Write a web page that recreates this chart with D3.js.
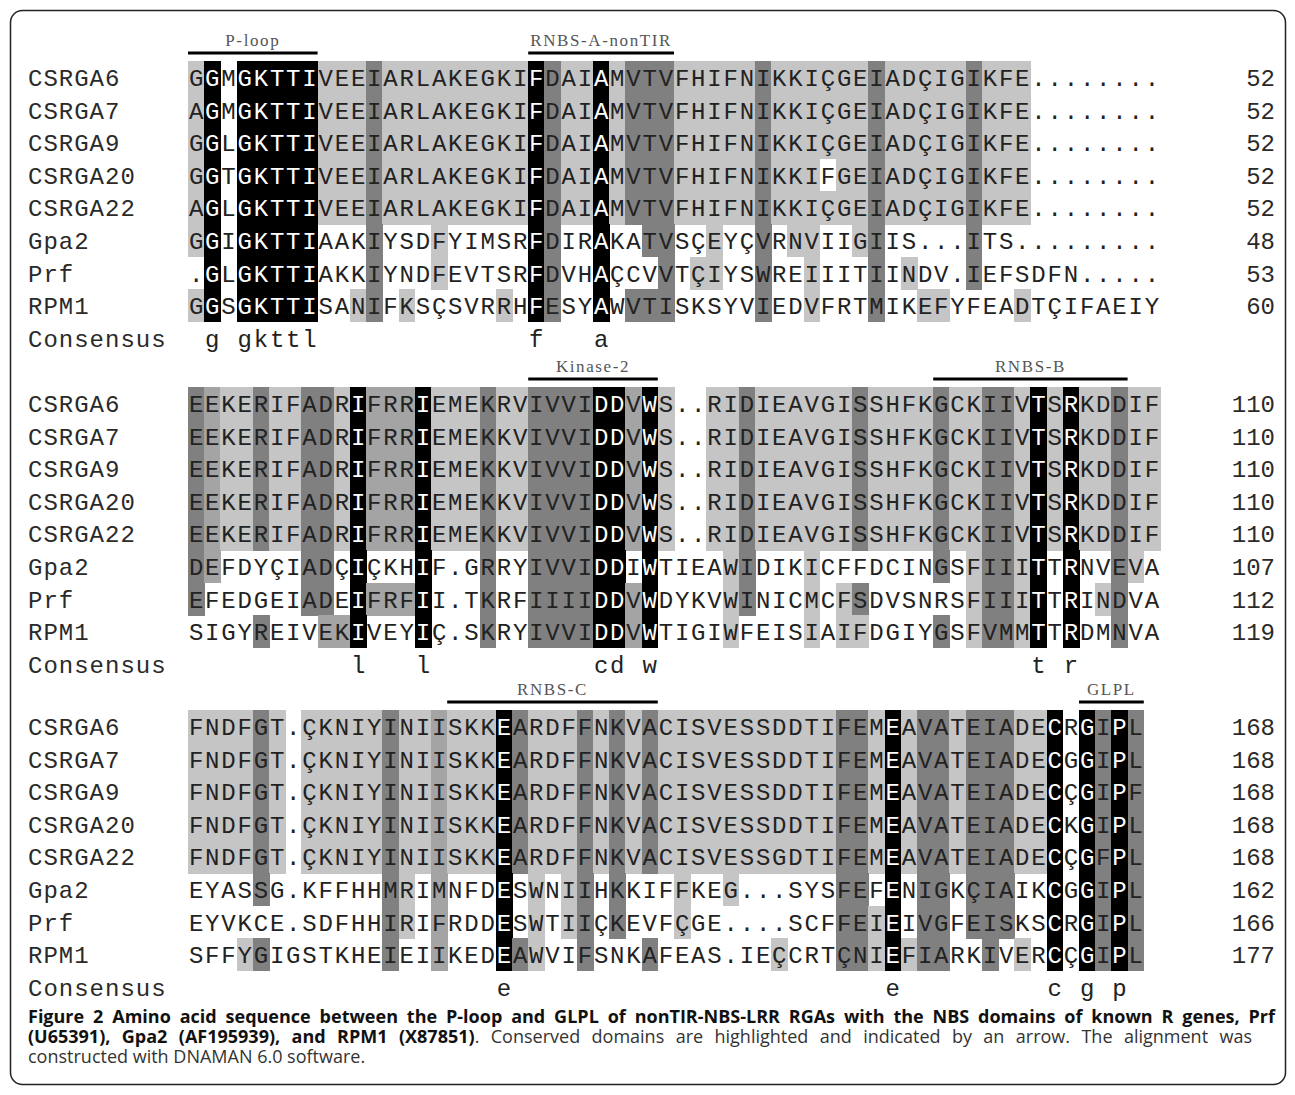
<!DOCTYPE html>
<html>
<head>
<meta charset="utf-8">
<script src="https://cdn.jsdelivr.net/npm/d3@7"></script>
<style>
  body { margin: 0; background: #fff; }
  svg { display: block; }
</style>
</head>
<body>
<div id="chart"></div>
<script>
// sequence names (same in every block)
const names = ['CSRGA6', 'CSRGA7', 'CSRGA9', 'CSRGA20', 'CSRGA22', 'Gpa2', 'Prf', 'RPM1'];

// aligned residues, block by block
const block1Seqs = [
  'GGMGKTTIVEEIARLAKEGKIFDAIAMVTVFHIFNIKKIÇGEIADÇIGIKFE........',
  'AGMGKTTIVEEIARLAKEGKIFDAIAMVTVFHIFNIKKIÇGEIADÇIGIKFE........',
  'GGLGKTTIVEEIARLAKEGKIFDAIAMVTVFHIFNIKKIÇGEIADÇIGIKFE........',
  'GGTGKTTIVEEIARLAKEGKIFDAIAMVTVFHIFNIKKIFGEIADÇIGIKFE........',
  'AGLGKTTIVEEIARLAKEGKIFDAIAMVTVFHIFNIKKIÇGEIADÇIGIKFE........',
  'GGIGKTTIAAKIYSDFYIMSRFDIRAKATVSÇEYÇVRNVIIGIIS...ITS.........',
  '.GLGKTTIAKKIYNDFEVTSRFDVHAÇCVVTÇIYSWREIIITIINDV.IEFSDFN.....',
  'GGSGKTTISANIFKSÇSVRRHFESYAWVTISKSYVIEDVFRTMIKEFYFEADTÇIFAEIY'
];
const block2Seqs = [
  'EEKERIFADRIFRRIEMEKRVIVVIDDVWS..RIDIEAVGISSHFKGCKIIVTSRKDDIF',
  'EEKERIFADRIFRRIEMEKKVIVVIDDVWS..RIDIEAVGISSHFKGCKIIVTSRKDDIF',
  'EEKERIFADRIFRRIEMEKKVIVVIDDVWS..RIDIEAVGISSHFKGCKIIVTSRKDDIF',
  'EEKERIFADRIFRRIEMEKKVIVVIDDVWS..RIDIEAVGISSHFKGCKIIVTSRKDDIF',
  'EEKERIFADRIFRRIEMEKKVIVVIDDVWS..RIDIEAVGISSHFKGCKIIVTSRKDDIF',
  'DEFDYÇIADÇIÇKHIF.GRRYIVVIDDIWTIEAWIDIKICFFDCINGSFIIITTRNVEVA',
  'EFEDGEIADEIFRFII.TKRFIIIIDDVWDYKVWINICMCFSDVSNRSFIIITTRINDVA',
  'SIGYREIVEKIVEYIÇ.SKRYIVVIDDVWTIGIWFEISIAIFDGIYGSFVMMTTRDMNVA'
];
const block3Seqs = [
  'FNDFGT.ÇKNIYINIISKKEARDFFNKVACISVESSDDTIFEMEAVATEIADECRGIPL',
  'FNDFGT.ÇKNIYINIISKKEARDFFNKVACISVESSDDTIFEMEAVATEIADECGGIPL',
  'FNDFGT.ÇKNIYINIISKKEARDFFNKVACISVESSDDTIFEMEAVATEIADECÇGIPF',
  'FNDFGT.ÇKNIYINIISKKEARDFFNKVACISVESSDDTIFEMEAVATEIADECKGIPL',
  'FNDFGT.ÇKNIYINIISKKEARDFFNKVACISVESSGDTIFEMEAVATEIADECÇGFPL',
  'EYASSG.KFFHHMRIMNFDESWNIIHKKIFFKEG...SYSFEFENIGKÇIAIKCGGIPL',
  'EYVKCE.SDFHHIRIFRDDESWTIIÇKEVFÇGE....SCFFEIEIVGFEISKSCRGIPL',
  'SFFYGIGSTKHEIEIIKEDEAWVIFSNKAFEAS.IEÇCRTÇNIEFIARKIVERCÇGIPL'
];

// homology level of each residue: . none, l low, m medium, d high, k identical
const block1Shade = [
  'lk.kkkkk llld lllllllll kdll klddd llllldll lllld llllldlll ........',
  'lk.kkkkk llld lllllllll kdll klddd llllldll lllld llllldlll ........',
  'lk.kkkkk llld lllllllll kdll klddd llllldll lllld llllldlll ........',
  'lk.kkkkk llld lllllllll kdll klddd llllldll l.lld llllldlll ........',
  'lk.kkkkk llld lllllllll kdll klddd llllldll lllld llllldlll ........',
  'lk.kkkkk ...d ...l..... kd.. k..dd ..l..d.l l..ld .....d... ........',
  '.k.kkkkk ...d ...l..... kd.. k...d .ll..d.. l...d .l...d... ........',
  'lk.kkkkk ..ld .l.....l. kd.. k.ddd .....d.. l...d ..ll....l ........'
];
const block2Shade = [
  'dmlldllddl kmmmkllldl lddddkkmkl ..lldlllll ldlllldlld dlklklldll',
  'dmlldllddl kmmmkllldl lddddkkmkl ..lldlllll ldlllldlld dlklklldll',
  'dmlldllddl kmmmkllldl lddddkkmkl ..lldlllll ldlllldlld dlklklldll',
  'dmlldllddl kmmmkllldl lddddkkmkl ..lldlllll ldlllldlld dlklklldll',
  'dmlldllddl kmmmkllldl lddddkkmkl ..lldlllll ldlllldlld dlklklldll',
  'dm.....dd. k...k...d. .ddddkk.k. ...ld...l. ......d.ld dlk.k..dl.',
  'd......dd. kmmmk...d. .ddddkkmk. ...ld...l. ld......ld dlk.k.ld..',
  '....d...mm k...k...d. .ddddkkmk. ...l....l. ll....d.ld dlk.k..d..'
];
const block3Shade = [
  'lllldl.lll lldllmlllk dllldldldl llllllllll ddlklddldd dllk.kdkd',
  'lllldl.lll lldllmlllk dllldldldl llllllllll ddlklddldd dllk.kdkd',
  'lllldl.lll lldllmlllk dllldldldl llllllllll ddlklddldd dllk.kdkd',
  'lllldl.lll lldllmlllk dllldldldl llllllllll ddlklddldd dllk.kdkd',
  'lllldl.lll lldllmlllk dllldldldl llllllllll ddlklddldd dllk.kdkd',
  '....d..... ..dl.m...k .l.ld.d... l..l...... dd.k.dd.dd d..k.kdkd',
  '.......... ..dl.m...k .l.ld.d... l......... ddlk.dd.dd d..k.kdkd',
  '...ld..... ..d..m...k dl..d...d. ......l... ddlkldd..d .l.k.kdkd'
];

// residue count at the end of each line
const block1Ends = [52, 52, 52, 52, 52, 48, 53, 60];
const block2Ends = [110, 110, 110, 110, 110, 107, 112, 119];
const block3Ends = [168, 168, 168, 168, 168, 162, 166, 177];

// consensus letters: [column, letter]
const block1Consensus = [[2, 'g'], [4, 'g'], [5, 'k'], [6, 't'], [7, 't'], [8, 'l'], [22, 'f'], [26, 'a']];
const block2Consensus = [[11, 'l'], [15, 'l'], [26, 'c'], [27, 'd'], [29, 'w'], [53, 't'], [55, 'r']];
const block3Consensus = [[20, 'e'], [44, 'e'], [54, 'c'], [56, 'g'], [58, 'p']];

// conserved motifs: block index, label, first and last column
const domains = [
  { block: 0, label: 'P-loop', from: 1, to: 8 },
  { block: 0, label: 'RNBS-A-nonTIR', from: 22, to: 30 },
  { block: 1, label: 'Kinase-2', from: 22, to: 29 },
  { block: 1, label: 'RNBS-B', from: 47, to: 58 },
  { block: 2, label: 'RNBS-C', from: 17, to: 29 },
  { block: 2, label: 'GLPL', from: 56, to: 59 }
];

const captionBold1 = 'Figure 2 Amino acid sequence between the P-loop and GLPL of nonTIR-NBS-LRR RGAs with the NBS domains of known R genes, Prf';
const captionBold2 = '(U65391), Gpa2 (AF195939), and RPM1 (X87851)';
const captionRest2 = '. Conserved domains are highlighted and indicated by an arrow. The alignment was';
const captionLine3 = 'constructed with DNAMAN 6.0 software.';

const blocks = [
  { seqs: block1Seqs, shade: block1Shade, ends: block1Ends, consensus: block1Consensus },
  { seqs: block2Seqs, shade: block2Shade, ends: block2Ends, consensus: block2Consensus },
  { seqs: block3Seqs, shade: block3Shade, ends: block3Ends, consensus: block3Consensus }
];

const width = 1295, height = 1095;
const rowH = 32.6;
const blockTop = [61, 387, 710];
const monoFont = "'Liberation Mono', 'DejaVu Sans Mono', monospace";
const shadeColor = { l: '#c5c5c5', m: '#a4a4a4', d: '#808080', k: '#000000' };

const svg = d3.select('#chart').append('svg')
  .attr('width', width)
  .attr('height', height);

svg.append('rect')
  .attr('x', 10.5).attr('y', 10.5)
  .attr('width', 1275).attr('height', 1074)
  .attr('rx', 12)
  .attr('fill', '#fff')
  .attr('stroke', '#222')
  .attr('stroke-width', 1.5);

// one column per alignment position
const x = d3.scaleBand()
  .domain(d3.range(1, 61))
  .range([188, 1160]);

blocks.forEach((blk, b) => {
  const y = d3.scaleBand()
    .domain(d3.range(9))   // 8 sequences + consensus
    .range([blockTop[b], blockTop[b] + 9 * rowH]);

  const g = svg.append('g');

  const cells = [];
  blk.seqs.forEach((s, r) => {
    const sh = blk.shade[r].replace(/ /g, '');
    Array.from(s).forEach((ch, i) => cells.push({ r, c: i + 1, ch, lvl: sh[i] || '.' }));
  });

  // shading behind residues
  g.selectAll('rect.cell')
    .data(cells.filter(d => d.lvl !== '.'))
    .join('rect')
    .attr('class', 'cell')
    .attr('x', d => x(d.c))
    .attr('y', d => y(d.r))
    .attr('width', x.bandwidth() + 0.6)
    .attr('height', y.bandwidth() + 0.6)
    .attr('fill', d => shadeColor[d.lvl])
    .attr('shape-rendering', 'crispEdges');

  // residues
  g.selectAll('text.res')
    .data(cells)
    .join('text')
    .attr('class', 'res')
    .attr('x', d => x(d.c) + x.bandwidth() / 2)
    .attr('y', d => y(d.r) + y.bandwidth() / 2)
    .attr('dy', '0.36em')
    .attr('text-anchor', 'middle')
    .style('font-family', monoFont)
    .style('font-size', '24px')
    .attr('fill', d => d.lvl === 'k' ? '#fff' : '#222')
    .text(d => d.ch);

  // names on the left
  g.selectAll('text.name')
    .data(names.concat(['Consensus']))
    .join('text')
    .attr('class', 'name')
    .attr('x', 28)
    .attr('y', (d, i) => y(i) + y.bandwidth() / 2)
    .attr('dy', '0.36em')
    .style('font-family', monoFont)
    .style('font-size', '24px')
    .style('letter-spacing', '1px')
    .attr('fill', '#2a2a2a')
    .text(d => d);

  // residue counts on the right
  g.selectAll('text.count')
    .data(blk.ends)
    .join('text')
    .attr('class', 'count')
    .attr('x', 1275)
    .attr('y', (d, i) => y(i) + y.bandwidth() / 2)
    .attr('dy', '0.36em')
    .attr('text-anchor', 'end')
    .style('font-family', monoFont)
    .style('font-size', '24px')
    .attr('fill', '#2a2a2a')
    .text(d => d);

  // consensus row
  g.selectAll('text.cons')
    .data(blk.consensus)
    .join('text')
    .attr('class', 'cons')
    .attr('x', d => x(d[0]) + x.bandwidth() / 2)
    .attr('y', y(8) + y.bandwidth() / 2)
    .attr('dy', '0.36em')
    .attr('text-anchor', 'middle')
    .style('font-family', monoFont)
    .style('font-size', '24px')
    .attr('fill', '#222')
    .text(d => d[1]);

  // motif bars and labels
  const doms = domains.filter(d => d.block === b);
  g.selectAll('line.dom')
    .data(doms)
    .join('line')
    .attr('class', 'dom')
    .attr('x1', d => x(d.from))
    .attr('x2', d => x(d.to) + x.bandwidth())
    .attr('y1', blockTop[b] - 8)
    .attr('y2', blockTop[b] - 8)
    .attr('stroke', '#000')
    .attr('stroke-width', 3);

  g.selectAll('text.dom')
    .data(doms)
    .join('text')
    .attr('class', 'dom')
    .attr('x', d => (x(d.from) + x(d.to) + x.bandwidth()) / 2)
    .attr('y', blockTop[b] - 15)
    .attr('text-anchor', 'middle')
    .style('font-family', "'Liberation Serif', 'DejaVu Serif', serif")
    .style('font-size', '17px')
    .style('letter-spacing', '1.6px')
    .attr('fill', '#555')
    .text(d => d.label);
});

// caption, justified like the journal layout
const cap = svg.append('g')
  .style('font-family', "'Open Sans', 'Noto Sans', sans-serif")
  .style('font-size', '18px');

const l1 = cap.append('text').attr('x', 28).attr('y', 1023)
  .attr('fill', '#111').style('font-weight', 'bold')
  .text(captionBold1);

const l2 = cap.append('text').attr('x', 28).attr('y', 1043);
l2.append('tspan').attr('fill', '#111').style('font-weight', 'bold').text(captionBold2);
l2.append('tspan').attr('fill', '#333').text(captionRest2);

cap.append('text').attr('x', 28).attr('y', 1063)
  .attr('fill', '#333')
  .text(captionLine3);

function justify(sel, target, txt) {
  const w = sel.node().getComputedTextLength();
  const gaps = (txt.match(/ /g) || []).length;
  if (gaps > 0 && w < target) sel.style('word-spacing', ((target - w) / gaps) + 'px');
}
justify(l1, 1275 - 28, captionBold1);
justify(l2, 1252 - 28, captionBold2 + captionRest2);
</script>
</body>
</html>
